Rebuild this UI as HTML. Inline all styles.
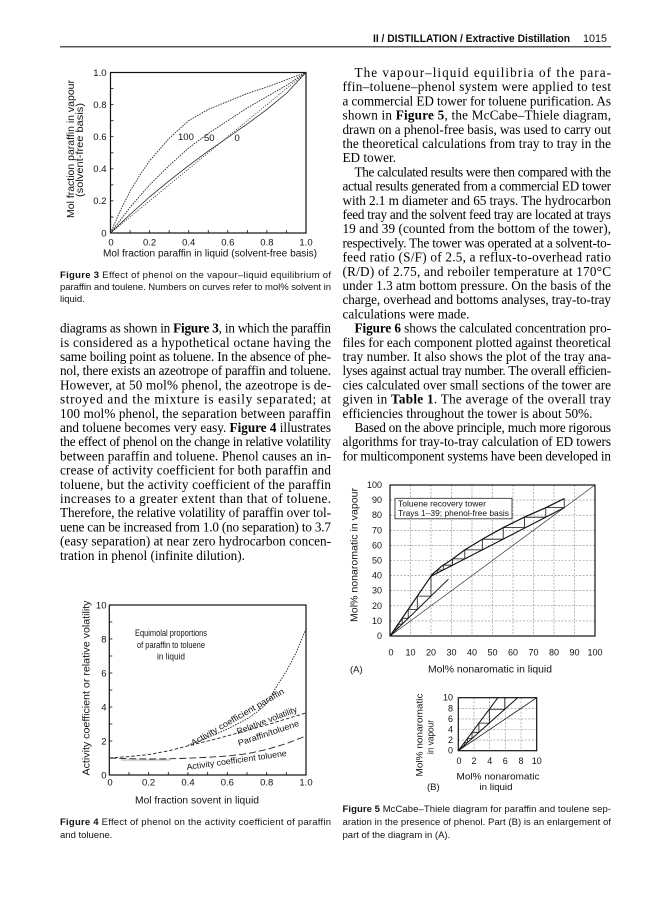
<!DOCTYPE html>
<html><head><meta charset="utf-8"><style>
html,body{margin:0;padding:0;background:#fff;}
svg{display:block;}
.b{font-family:"Liberation Serif",serif;font-size:13.2px;fill:#000;}
.bb{font-weight:bold;}
.s{font-family:"Liberation Sans",sans-serif;fill:#111;}
.t3{font-size:9.5px;}
.t5{font-size:9px;}
.cap{font-family:"Liberation Sans",sans-serif;font-size:9.5px;fill:#111;}
</style></head><body>
<svg width="668" height="900" viewBox="0 0 668 900" xmlns="http://www.w3.org/2000/svg">
<rect width="668" height="900" fill="#fff"/>
<!-- Header -->
<text class="s" x="373" y="42" font-size="10.8" font-weight="bold" textLength="197" lengthAdjust="spacingAndGlyphs">II / DISTILLATION / Extractive Distillation</text>
<text class="s" x="583" y="42" font-size="10.8" textLength="24" lengthAdjust="spacingAndGlyphs">1015</text>
<line x1="60" y1="46.8" x2="611" y2="46.8" stroke="#222" stroke-width="1.2"/>

<!-- Right column text -->
<g class="b">
<text x="354.5" y="77" textLength="256.5" lengthAdjust="spacing">The vapour–liquid equilibria of the para-</text>
<text x="342.5" y="91.2" textLength="268.5" lengthAdjust="spacing">ffin–toluene–phenol system were applied to test</text>
<text x="342.5" y="105.4" textLength="268.5" lengthAdjust="spacing">a commercial ED tower for toluene purification. As</text>
<text x="342.5" y="119.6" textLength="268.5" lengthAdjust="spacing">shown in <tspan class="bb">Figure 5</tspan>, the McCabe–Thiele diagram,</text>
<text x="342.5" y="133.8" textLength="268.5" lengthAdjust="spacing">drawn on a phenol-free basis, was used to carry out</text>
<text x="342.5" y="148" textLength="268.5" lengthAdjust="spacing">the theoretical calculations from tray to tray in the</text>
<text x="342.5" y="162.2">ED tower.</text>
<text x="354.5" y="176.4" textLength="256.5" lengthAdjust="spacing">The calculated results were then compared with the</text>
<text x="342.5" y="190.6" textLength="268.5" lengthAdjust="spacing">actual results generated from a commercial ED tower</text>
<text x="342.5" y="204.8" textLength="268.5" lengthAdjust="spacing">with 2.1 m diameter and 65 trays. The hydrocarbon</text>
<text x="342.5" y="219" textLength="268.5" lengthAdjust="spacing">feed tray and the solvent feed tray are located at trays</text>
<text x="342.5" y="233.2" textLength="268.5" lengthAdjust="spacing">19 and 39 (counted from the bottom of the tower),</text>
<text x="342.5" y="247.4" textLength="268.5" lengthAdjust="spacing">respectively. The tower was operated at a solvent-to-</text>
<text x="342.5" y="261.6" textLength="268.5" lengthAdjust="spacing">feed ratio (S/F) of 2.5, a reflux-to-overhead ratio</text>
<text x="342.5" y="275.8" textLength="268.5" lengthAdjust="spacing">(R/D) of 2.75, and reboiler temperature at 170°C</text>
<text x="342.5" y="290" textLength="268.5" lengthAdjust="spacing">under 1.3 atm bottom pressure. On the basis of the</text>
<text x="342.5" y="304.2" textLength="268.5" lengthAdjust="spacing">charge, overhead and bottoms analyses, tray-to-tray</text>
<text x="342.5" y="318.4">calculations were made.</text>
<text x="354.5" y="332.6" textLength="256.5" lengthAdjust="spacing"><tspan class="bb">Figure 6</tspan> shows the calculated concentration pro-</text>
<text x="342.5" y="346.8" textLength="268.5" lengthAdjust="spacing">files for each component plotted against theoretical</text>
<text x="342.5" y="361" textLength="268.5" lengthAdjust="spacing">tray number. It also shows the plot of the tray ana-</text>
<text x="342.5" y="375.2" textLength="268.5" lengthAdjust="spacing">lyses against actual tray number. The overall efficien-</text>
<text x="342.5" y="389.4" textLength="268.5" lengthAdjust="spacing">cies calculated over small sections of the tower are</text>
<text x="342.5" y="403.6" textLength="268.5" lengthAdjust="spacing">given in <tspan class="bb">Table 1</tspan>. The average of the overall tray</text>
<text x="342.5" y="417.8">efficiencies throughout the tower is about 50%.</text>
<text x="354.5" y="432" textLength="256.5" lengthAdjust="spacing">Based on the above principle, much more rigorous</text>
<text x="342.5" y="446.2" textLength="268.5" lengthAdjust="spacing">algorithms for tray-to-tray calculation of ED towers</text>
<text x="342.5" y="460.4" textLength="268.5" lengthAdjust="spacing">for multicomponent systems have been developed in</text>
</g>

<!-- Left column text -->
<g class="b">
<text x="60" y="332.6" textLength="271" lengthAdjust="spacing">diagrams as shown in <tspan class="bb">Figure 3</tspan>, in which the paraffin</text>
<text x="60" y="346.8" textLength="271" lengthAdjust="spacing">is considered as a hypothetical octane having the</text>
<text x="60" y="361" textLength="271" lengthAdjust="spacing">same boiling point as toluene. In the absence of phe-</text>
<text x="60" y="375.2" textLength="271" lengthAdjust="spacing">nol, there exists an azeotrope of paraffin and toluene.</text>
<text x="60" y="389.4" textLength="271" lengthAdjust="spacing">However, at 50 mol% phenol, the azeotrope is de-</text>
<text x="60" y="403.6" textLength="271" lengthAdjust="spacing">stroyed and the mixture is easily separated; at</text>
<text x="60" y="417.8" textLength="271" lengthAdjust="spacing">100 mol% phenol, the separation between paraffin</text>
<text x="60" y="432" textLength="271" lengthAdjust="spacing">and toluene becomes very easy. <tspan class="bb">Figure 4</tspan> illustrates</text>
<text x="60" y="446.2" textLength="271" lengthAdjust="spacing">the effect of phenol on the change in relative volatility</text>
<text x="60" y="460.4" textLength="271" lengthAdjust="spacing">between paraffin and toluene. Phenol causes an in-</text>
<text x="60" y="474.6" textLength="271" lengthAdjust="spacing">crease of activity coefficient for both paraffin and</text>
<text x="60" y="488.8" textLength="271" lengthAdjust="spacing">toluene, but the activity coefficient of the paraffin</text>
<text x="60" y="503" textLength="271" lengthAdjust="spacing">increases to a greater extent than that of toluene.</text>
<text x="60" y="517.2" textLength="271" lengthAdjust="spacing">Therefore, the relative volatility of paraffin over tol-</text>
<text x="60" y="531.4" textLength="271" lengthAdjust="spacing">uene can be increased from 1.0 (no separation) to 3.7</text>
<text x="60" y="545.6" textLength="271" lengthAdjust="spacing">(easy separation) at near zero hydrocarbon concen-</text>
<text x="60" y="559.8">tration in phenol (infinite dilution).</text>
</g>

<!-- Captions -->
<g class="cap">
<text x="60" y="278" textLength="271" lengthAdjust="spacing"><tspan font-weight="bold">Figure 3</tspan>   Effect of phenol on the vapour–liquid equilibrium of</text>
<text x="60" y="290" textLength="271" lengthAdjust="spacing">paraffin and toulene. Numbers on curves refer to mol% solvent in</text>
<text x="60" y="302">liquid.</text>
<text x="60" y="825" textLength="271" lengthAdjust="spacing"><tspan font-weight="bold">Figure 4</tspan>   Effect of phenol on the activity coefficient of paraffin</text>
<text x="60" y="838">and toluene.</text>
<text x="342.5" y="812" textLength="268.5" lengthAdjust="spacing"><tspan font-weight="bold">Figure 5</tspan>   McCabe–Thiele diagram for paraffin and toulene sep-</text>
<text x="342.5" y="825" textLength="268.5" lengthAdjust="spacing">aration in the presence of phenol. Part (B) is an enlargement of</text>
<text x="342.5" y="838">part of the diagram in (A).</text>
</g>

<!-- ===== Figure 3 ===== -->
<g>
<rect x="110.5" y="72.5" width="195.5" height="160.5" fill="none" stroke="#111" stroke-width="1.2"/>
<g stroke="#111" stroke-width="0.8">
<line x1="110.5" y1="217" x2="113.5" y2="217"/><line x1="110.5" y1="200.9" x2="113.5" y2="200.9"/>
<line x1="110.5" y1="184.9" x2="113.5" y2="184.9"/><line x1="110.5" y1="168.8" x2="113.5" y2="168.8"/>
<line x1="110.5" y1="152.8" x2="113.5" y2="152.8"/><line x1="110.5" y1="136.7" x2="113.5" y2="136.7"/>
<line x1="110.5" y1="120.7" x2="113.5" y2="120.7"/><line x1="110.5" y1="104.6" x2="113.5" y2="104.6"/>
<line x1="110.5" y1="88.6" x2="113.5" y2="88.6"/>
<line x1="130.05" y1="233" x2="130.05" y2="230"/><line x1="149.6" y1="233" x2="149.6" y2="230"/>
<line x1="169.15" y1="233" x2="169.15" y2="230"/><line x1="188.7" y1="233" x2="188.7" y2="230"/>
<line x1="208.25" y1="233" x2="208.25" y2="230"/><line x1="227.8" y1="233" x2="227.8" y2="230"/>
<line x1="247.35" y1="233" x2="247.35" y2="230"/><line x1="266.9" y1="233" x2="266.9" y2="230"/>
<line x1="286.45" y1="233" x2="286.45" y2="230"/>
</g>
<g fill="none" stroke="#222" stroke-width="0.85">
<polyline stroke-dasharray="1.6 1" points="110.5,233 120.3,210.5 130.05,191.3 139.8,175.2 149.6,160.8 169.2,138.3 188.7,120.65 208.25,109.4 227.8,101.4 247.35,93.4 266.9,87 286.45,79.7 306,72.5"/>
<polyline stroke-dasharray="1.6 1" points="110.5,233 130.05,207.3 149.6,184.85 169.15,165.6 188.7,147.9 208.25,133.5 227.8,120.65 247.35,107.8 266.9,96.6 286.45,85.3 306,72.5"/>
<polyline stroke-width="0.75" points="110.5,233 130.05,214.5 149.6,196.9 169.15,180.8 188.7,165.6 208.25,151.1 227.8,137.5 247.35,123.9 266.9,109.4 286.45,93.4 306,72.5"/>
<line stroke-dasharray="1 1.5" x1="110.5" y1="233" x2="306" y2="72.5"/>
</g>
<g class="s t3">
<text x="178" y="140">100</text>
<text x="204" y="141">50</text>
<text x="234.5" y="141">0</text>
</g>
<g class="s t3" text-anchor="end">
<text x="106.5" y="76">1.0</text><text x="106.5" y="108">0.8</text><text x="106.5" y="140">0.6</text>
<text x="106.5" y="172">0.4</text><text x="106.5" y="204">0.2</text><text x="106.5" y="236.3">0</text>
</g>
<g class="s t3" text-anchor="middle">
<text x="111" y="245.5">0</text><text x="149.6" y="245.5">0.2</text><text x="188.7" y="245.5">0.4</text>
<text x="227.8" y="245.5">0.6</text><text x="266.9" y="245.5">0.8</text><text x="306" y="245.5">1.0</text>
</g>
<text class="s" font-size="10" x="210" y="256.5" text-anchor="middle" textLength="214" lengthAdjust="spacingAndGlyphs">Mol fraction paraffin in liquid (solvent-free basis)</text>
<text class="s" font-size="10" transform="translate(74,149) rotate(-90)" text-anchor="middle" textLength="138" lengthAdjust="spacingAndGlyphs">Mol fraction paraffin in vapour</text>
<text class="s" font-size="10" transform="translate(83,150) rotate(-90)" text-anchor="middle" textLength="94" lengthAdjust="spacingAndGlyphs">(solvent-free basis)</text>
</g>

<!-- ===== Figure 4 ===== -->
<g>
<rect x="109.3" y="605" width="196.7" height="170" fill="none" stroke="#111" stroke-width="1.2"/>
<g stroke="#111" stroke-width="0.8">
<line x1="109.3" y1="758" x2="112.3" y2="758"/><line x1="109.3" y1="741" x2="112.3" y2="741"/>
<line x1="109.3" y1="724" x2="112.3" y2="724"/><line x1="109.3" y1="707" x2="112.3" y2="707"/>
<line x1="109.3" y1="690" x2="112.3" y2="690"/><line x1="109.3" y1="673" x2="112.3" y2="673"/>
<line x1="109.3" y1="656" x2="112.3" y2="656"/><line x1="109.3" y1="639" x2="112.3" y2="639"/>
<line x1="109.3" y1="622" x2="112.3" y2="622"/>
<line x1="129" y1="775" x2="129" y2="772"/><line x1="148.6" y1="775" x2="148.6" y2="772"/>
<line x1="168.3" y1="775" x2="168.3" y2="772"/><line x1="188" y1="775" x2="188" y2="772"/>
<line x1="207.65" y1="775" x2="207.65" y2="772"/><line x1="227.3" y1="775" x2="227.3" y2="772"/>
<line x1="247" y1="775" x2="247" y2="772"/><line x1="266.7" y1="775" x2="266.7" y2="772"/>
<line x1="286.3" y1="775" x2="286.3" y2="772"/>
</g>
<g fill="none" stroke="#222" stroke-width="0.9">
<polyline stroke-dasharray="3.5 2" points="109.3,758 129,756.6 148.6,754.6 168.3,750.9 188,745.8 207.65,741 227.3,735.9 247,730.5 266.7,724.85 286.3,718.9 306,712.95"/>
<polyline stroke-dasharray="1.5 1.2" points="188,745.25 207.65,737.6 227.3,729.1 247,719 256.8,712.1 266.7,703.6 276.5,686.6 286.3,671.3 296.2,652.6 306,628.8"/>
<polyline stroke-dasharray="7 3" points="109.3,758 129,758.7 148.6,759 168.3,758.85 188,758.2 207.65,757.3 227.3,756 247,753.75 266.7,749.5 286.3,743.55 306,735.9"/>
<line x1="121" y1="760" x2="170" y2="760" stroke="#aaa" stroke-width="1"/>
</g>
<g class="s" font-size="8.5">
<text transform="translate(193,746) rotate(-30)" textLength="106" lengthAdjust="spacingAndGlyphs">Activity coefficient paraffin</text>
<text transform="translate(238,734.5) rotate(-21)" textLength="64" lengthAdjust="spacingAndGlyphs">Relative volatility</text>
<text transform="translate(239,746) rotate(-18.5)" textLength="64" lengthAdjust="spacingAndGlyphs">Paraffin/toluene</text>
<text transform="translate(187,770) rotate(-8)" textLength="101" lengthAdjust="spacingAndGlyphs">Activity coefficient toluene</text>
</g>
<g class="s" font-size="9" text-anchor="middle">
<text x="171" y="636" textLength="72" lengthAdjust="spacingAndGlyphs">Equimolal proportions</text>
<text x="171" y="648" textLength="68" lengthAdjust="spacingAndGlyphs">of paraffin to toluene</text>
<text x="171" y="659.5" textLength="28" lengthAdjust="spacingAndGlyphs">in liquid</text>
</g>
<g class="s t3" text-anchor="end">
<text x="106.5" y="608.3">10</text><text x="106.5" y="642.3">8</text><text x="106.5" y="676.3">6</text>
<text x="106.5" y="710.3">4</text><text x="106.5" y="744.3">2</text><text x="106.5" y="778.3">0</text>
</g>
<g class="s t3" text-anchor="middle">
<text x="110" y="785.5">0</text><text x="148.6" y="785.5">0.2</text><text x="188" y="785.5">0.4</text>
<text x="227.3" y="785.5">0.6</text><text x="266.7" y="785.5">0.8</text><text x="306" y="785.5">1.0</text>
</g>
<text class="s" font-size="10" x="197" y="803.5" text-anchor="middle" textLength="124" lengthAdjust="spacingAndGlyphs">Mol fraction sovent in liquid</text>
<text class="s" font-size="10" transform="translate(89.5,688) rotate(-90)" text-anchor="middle" textLength="175" lengthAdjust="spacingAndGlyphs">Activity coefficient or relative volatility</text>
</g>

<!-- ===== Figure 5A ===== -->
<g>
<g stroke="#8a8a8a" stroke-width="0.6" stroke-dasharray="2 1.5">
<line x1="410.5" y1="485" x2="410.5" y2="636"/><line x1="431" y1="485" x2="431" y2="636"/>
<line x1="451.5" y1="485" x2="451.5" y2="636"/><line x1="472" y1="485" x2="472" y2="636"/>
<line x1="492.5" y1="485" x2="492.5" y2="636"/><line x1="513" y1="485" x2="513" y2="636"/>
<line x1="533.5" y1="485" x2="533.5" y2="636"/><line x1="554" y1="485" x2="554" y2="636"/>
<line x1="574.5" y1="485" x2="574.5" y2="636"/>
<line x1="390" y1="620.9" x2="595" y2="620.9"/><line x1="390" y1="605.8" x2="595" y2="605.8"/>
<line x1="390" y1="590.7" x2="595" y2="590.7"/><line x1="390" y1="575.6" x2="595" y2="575.6"/>
<line x1="390" y1="560.5" x2="595" y2="560.5"/><line x1="390" y1="545.4" x2="595" y2="545.4"/>
<line x1="390" y1="530.3" x2="595" y2="530.3"/><line x1="390" y1="515.2" x2="595" y2="515.2"/>
<line x1="390" y1="500.1" x2="595" y2="500.1"/>
</g>
<rect x="390" y="485" width="205" height="151" fill="none" stroke="#111" stroke-width="1.2"/>
<rect x="395" y="498.3" width="117" height="20.5" fill="#fff" stroke="#222" stroke-width="0.8"/>
<g class="s" font-size="8.3">
<text x="398" y="506.3" textLength="88" lengthAdjust="spacingAndGlyphs">Toluene recovery tower</text>
<text x="398" y="516" textLength="111" lengthAdjust="spacingAndGlyphs">Trays 1–39; phenol-free basis</text>
</g>
<g fill="none" stroke="#111">
<line x1="390" y1="636" x2="595" y2="485" stroke-width="0.7" stroke="#333"/>
<line x1="390" y1="636" x2="431" y2="576.2" stroke-width="1.2"/>
<line x1="390" y1="636" x2="448.4" y2="579.2" stroke-width="1"/>
<polyline stroke-width="1.2" points="431,575.6 441.25,566.5 451.5,559.7 464.8,549.9 483.3,538.6 503.8,527.3 525.3,516.7 545.8,507.65 564.25,498.6"/>
<line x1="431" y1="576.3" x2="564.25" y2="507.65" stroke-width="1.1"/>
<path stroke-width="0.8" d="M564.25,507.65V498.6 M545.8,507.65H564.25 M545.8,517.2V507.65 M524.5,517.2H545.8 M524.5,527.6V517.2 M503.2,527.6H524.5 M503.2,539.2V527.6 M482.3,539.2H503.2 M482.3,549.9V539.2 M464.8,549.9H482.3 M464.8,558.9V549.9 M452.6,558.9H464.8 M452.6,565.2V558.9 M443.3,565.2H452.6 M443.3,570V565.2 M437.3,570H443.3 M437.3,573V570"/>
<path stroke-width="0.8" d="M431,596.1V576.2 M417.3,596.1H431 M417.3,609.4V596.1 M408.2,609.4H417.3 M408.2,618.3V609.4 M402.2,618.3H408.2 M402.2,624.2V618.3 M398.1,624.2H402.2 M398.1,628.1V624.2 M395.4,628.1H398.1 M395.4,630.8V628.1"/>
</g>
<g class="s t5" text-anchor="end">
<text x="382" y="639">0</text><text x="382" y="623.9">10</text><text x="382" y="608.8">20</text>
<text x="382" y="593.7">30</text><text x="382" y="578.6">40</text><text x="382" y="563.5">50</text>
<text x="382" y="548.4">60</text><text x="382" y="533.3">70</text><text x="382" y="518.2">80</text>
<text x="382" y="503.1">90</text><text x="382" y="488">100</text>
</g>
<g class="s t5" text-anchor="middle">
<text x="391" y="655.5">0</text><text x="410.5" y="655.5">10</text><text x="431" y="655.5">20</text>
<text x="451.5" y="655.5">30</text><text x="472" y="655.5">40</text><text x="492.5" y="655.5">50</text>
<text x="513" y="655.5">60</text><text x="533.5" y="655.5">70</text><text x="554" y="655.5">80</text>
<text x="574.5" y="655.5">90</text><text x="595" y="655.5">100</text>
</g>
<text class="s" font-size="10" x="490" y="672.5" text-anchor="middle" textLength="124" lengthAdjust="spacingAndGlyphs">Mol% nonaromatic in liquid</text>
<text class="s" font-size="9.5" x="350" y="672.5">(A)</text>
<text class="s" font-size="10" transform="translate(357.5,555) rotate(-90)" text-anchor="middle" textLength="134" lengthAdjust="spacingAndGlyphs">Mol% nonaromatic in vapour</text>
</g>

<!-- ===== Figure 5B ===== -->
<g>
<g stroke="#8a8a8a" stroke-width="0.6" stroke-dasharray="2 1.5">
<line x1="474" y1="697.7" x2="474" y2="750.7"/><line x1="489.7" y1="697.7" x2="489.7" y2="750.7"/>
<line x1="505.3" y1="697.7" x2="505.3" y2="750.7"/><line x1="521" y1="697.7" x2="521" y2="750.7"/>
<line x1="458.3" y1="740.1" x2="536.7" y2="740.1"/><line x1="458.3" y1="729.5" x2="536.7" y2="729.5"/>
<line x1="458.3" y1="718.9" x2="536.7" y2="718.9"/><line x1="458.3" y1="708.3" x2="536.7" y2="708.3"/>
</g>
<rect x="458.3" y="697.7" width="78.4" height="53" fill="none" stroke="#111" stroke-width="1.2"/>
<g fill="none" stroke="#111">
<line x1="458.3" y1="750.7" x2="536.7" y2="697.7" stroke-width="0.8"/>
<line x1="458.3" y1="750.7" x2="497.9" y2="697.7" stroke-width="1"/>
<line x1="458.3" y1="750.7" x2="517.7" y2="697.7" stroke-width="1"/>
<path stroke-width="0.8" d="M504.8,709.25V697.7 M489.3,709.25H504.8 M489.3,723.1V709.25 M478.9,723.1H489.3 M478.9,732.3V723.1 M472,732.3H478.9 M472,738.5V732.3 M467.5,738.5H472 M467.5,742.5V738.5 M464.4,742.5H467.5 M464.4,745.2V742.5"/>
</g>
<g class="s t5" text-anchor="end">
<text x="453" y="753.7">0</text><text x="453" y="743.1">2</text><text x="453" y="732.5">4</text>
<text x="453" y="721.9">6</text><text x="453" y="711.3">8</text><text x="453" y="700.7">10</text>
</g>
<g class="s t5" text-anchor="middle">
<text x="459" y="764">0</text><text x="474" y="764">2</text><text x="489.7" y="764">4</text>
<text x="505.3" y="764">6</text><text x="521" y="764">8</text><text x="536.7" y="764">10</text>
</g>
<text class="s" font-size="9.5" x="498" y="779.5" text-anchor="middle" textLength="83" lengthAdjust="spacingAndGlyphs">Mol% nonaromatic</text>
<text class="s" font-size="9.5" x="496" y="790" text-anchor="middle" textLength="33" lengthAdjust="spacingAndGlyphs">in liquid</text>
<text class="s" font-size="9.5" x="427" y="790">(B)</text>
<text class="s" font-size="9.5" transform="translate(422.5,735) rotate(-90)" text-anchor="middle" textLength="83" lengthAdjust="spacingAndGlyphs">Mol% nonaromatic</text>
<text class="s" font-size="9.5" transform="translate(433.5,737) rotate(-90)" text-anchor="middle" textLength="34" lengthAdjust="spacingAndGlyphs">in vapour</text>
</g>
</svg>
</body></html>
